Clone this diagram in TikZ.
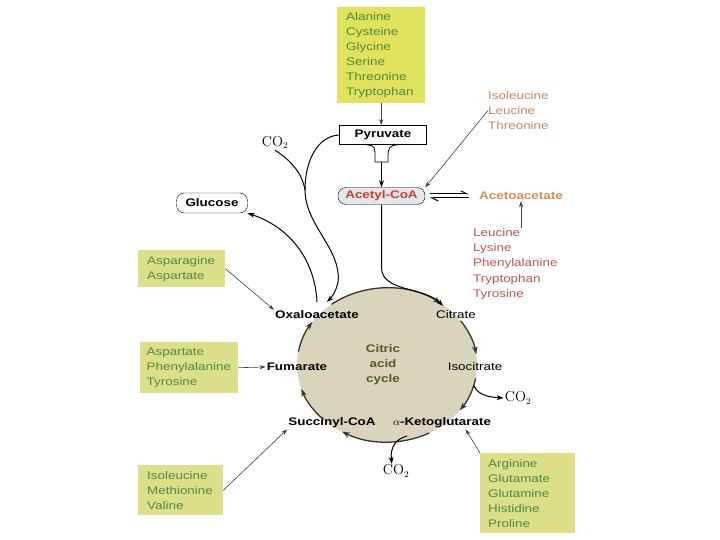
\documentclass[tikz,border=0pt]{standalone}
\usepackage[no-math]{fontspec}
\setmainfont[FakeStretch=1.22]{Liberation Sans}
\usepackage{tikz}
\usetikzlibrary{arrows.meta, positioning, shapes}

\definecolor{aaYellow}{HTML}{DFE25A}
\definecolor{aaPale}{HTML}{DDDE88}
\definecolor{aaGreen}{HTML}{4A8A4E}
\definecolor{acRed}{HTML}{C8402F}
\definecolor{acOrange}{HTML}{D98A4E}
\definecolor{ketoBrown}{HTML}{C48A5C}
\definecolor{ketoRed}{HTML}{B9584A}
\definecolor{cycOlive}{HTML}{5F5423}
\definecolor{ringFill}{HTML}{D8D5BC}
\definecolor{cycBrown}{HTML}{3E3126}
\definecolor{acoaFill}{HTML}{E3E7EB}

\tikzset{
  aaBox/.style={fill=aaYellow, text=aaGreen, anchor=north west, align=left,
                inner xsep=0pt, font=\fontsize{11}{15}\selectfont},
  aaBoxP/.style={aaBox, fill=aaPale},
  ketoTxt/.style={anchor=north west, align=left, inner sep=0pt,
                  font=\fontsize{11}{15.3}\selectfont},
  metab/.style={inner sep=1pt, font=\fontsize{11}{13}\selectfont\bfseries},
  metabR/.style={inner sep=1pt, font=\fontsize{11}{13}\selectfont},
  gas/.style={inner sep=1pt, font=\fontsize{13.5}{15}\selectfont},
  pyrBox/.style={metab, draw=black, thick, fill=white,
                 minimum width=87pt, minimum height=19pt},
  roundBox/.style={metab, draw=black, rounded corners=8pt},
  thinArrow/.style={draw=black!75, line width=0.6pt,
                    -{Stealth[length=6pt, width=4pt]}},
  flowLine/.style={draw=black, line width=1pt},
  flowArrow/.style={flowLine, -{Stealth[length=7pt, width=5pt]}},
  cycArrow/.style={draw=cycBrown, line width=1.3pt,
                   -{Stealth[length=8pt, width=5.5pt]}},
  eqArrow/.style={draw=black, line width=1pt,
                  -{Straight Barb[harpoon, length=6pt, width=6pt]}},
}

\begin{document}
\begin{tikzpicture}[x=1pt, y=-1pt]
    \fill[white] (0,0) rectangle (720,540);
    \useasboundingbox (0,0) rectangle (720,540);
    %% Amino acid boxes
    \node[aaBox, minimum width=88pt, minimum height=96pt, text width=70pt]
      (alaBox) at (337,7) {Alanine\\Cysteine\\Glycine\\Serine\\Threonine\\Tryptophan};
    \node[aaBoxP, minimum width=87pt, minimum height=37pt, text width=69pt]
      (asxBox) at (138,250) {Asparagine\\Aspartate};
    \node[aaBoxP, minimum width=98pt, minimum height=51pt, text width=85pt]
      (aroBox) at (140,342) {Aspartate\\Phenylalanine\\Tyrosine};
    \node[aaBoxP, minimum width=85pt, minimum height=50pt, text width=67pt]
      (bcaaBox) at (138,465) {Isoleucine\\Methionine\\Valine};
    \node[aaBoxP, minimum width=95pt, minimum height=80pt, text width=79pt]
      (gluBox) at (480,453) {Arginine\\Glutamate\\Glutamine\\Histidine\\Proline};
    %% Ketogenic groups
    \node[ketoTxt, text=ketoBrown] (ileGrp) at (488,91) {Isoleucine\\Leucine\\Threonine};
    \node[ketoTxt, text=ketoRed] (lysGrp) at (473,228)
      {Leucine\\Lysine\\Phenylalanine\\Tryptophan\\Tyrosine};
    %% Pyruvate, acetyl-CoA, glucose
    \node[pyrBox] (pyr) at (383,135) {Pyruvate};
    \node[roundBox, fill=acoaFill, text=acRed, minimum width=87pt,
          minimum height=17pt] (acoa) at (381.5,196) {Acetyl-CoA};
    \node[metab, text=acOrange] (acac) at (521,196) {Acetoacetate};
    \node[roundBox, fill=white, minimum width=71pt, minimum height=20pt]
      (gluc) at (212,203) {Glucose};
    \node[gas] (co2a) at (275,143) {$\mathrm{CO}_2$};
    %% Citric acid cycle
    \coordinate (ctr) at (387,365);
    \fill[ringFill] (ctr) ellipse [x radius=90, y radius=77];
    \node[metab] (oaa) at (317,315) {Oxaloacetate};
    \node[metabR] (cit) at (456,315) {Citrate};
    \node[metabR] (icit) at (475,367) {Isocitrate};
    \node[metab] (fum) at (297,367) {Fumarate};
    \node[metab] (scoa) at (332,423) {Succinyl-CoA};
    \node[metab] (akg) at (442,423) {$\alpha$-Ketoglutarate};
    \node[metab, text=cycOlive, align=center,
          font=\fontsize{11}{15}\selectfont\bfseries] (cac) at (383,365) {Citric\\acid\\cycle};
    \node[gas] (co2b) at (518,398) {$\mathrm{CO}_2$};
    \node[gas] (co2c) at (396,471) {$\mathrm{CO}_2$};
    \foreach \s/\e in {-128/-53, -35/-8, 10/36, 62/120, 135/162, 190/214}{
      \draw[cycArrow] ([shift={(\s:90 and 77)}]ctr)
        arc[start angle=\s, end angle=\e, x radius=90, y radius=77];
    }
    %% Pyruvate to acetyl-CoA
    \draw[thinArrow] (alaBox.south) -- (alaBox.south |- pyr.north);
    \draw[thick] (367,145) .. controls (375,145) and (375,149) .. (375,155)
      -- (375,162) -- (388,162) -- (388,155) .. controls (388,149) and (390,145) .. (397,145);
    \coordinate (funnel) at (381.5,162);
    \draw[flowArrow] (funnel) -- (acoa.north);
    \draw[thinArrow] (ileGrp.west) -- (acoa.north east);
    \draw[thinArrow] (acac.south |- lysGrp.north) -- (acac.south);
    \draw[eqArrow, shorten <=5pt, shorten >=9pt]
      ([yshift=2pt]acoa.east) -- ([yshift=2pt]acoa.east -| acac.west);
    \draw[eqArrow, shorten <=9pt, shorten >=5pt]
      ([yshift=-2pt]acoa.east -| acac.west) -- ([yshift=-2pt]acoa.east);
    %% Into and out of oxaloacetate
    \coordinate (citIn) at (443,306);
    \coordinate (oaaIn) at (327,302);
    \coordinate (oaaOut) at (317,302);
    \coordinate (joinCO2) at (305,190);
    \draw[flowArrow] (acoa.south) -- (381.5,268)
      .. controls (382,292) and (425,287) .. (citIn);
    \draw[flowArrow] (pyr.west) .. controls (318,136) and (305,160) .. (joinCO2)
      .. controls (305,225) and (342,250) .. (338,282)
      .. controls (336,292) and (331,298) .. (oaaIn);
    \draw[flowLine] (co2a.south) .. controls (290,160) and (302,172) .. (joinCO2);
    \draw[flowArrow] (oaaOut) .. controls (315,262) and (292,228) .. (gluc.south east);
    %% CO2 release
    \coordinate (icitOut) at (474,386);
    \coordinate (akgOut) at (407,436);
    \draw[flowArrow] (icitOut) .. controls (478,394) and (486,397) .. (co2b.west);
    \draw[flowArrow] (akgOut) .. controls (396,439) and (390,447) .. (co2c.120);
    %% Amino acids entering the cycle
    \draw[thinArrow] (asxBox.east) -- (oaa.north west);
    \draw[thinArrow] (aroBox.east) -- (fum.west);
    \draw[thinArrow] (bcaaBox.east) -- (scoa.south west);
    \draw[thinArrow] (gluBox.north west) -- (akg.-15);
\end{tikzpicture}
\end{document}
